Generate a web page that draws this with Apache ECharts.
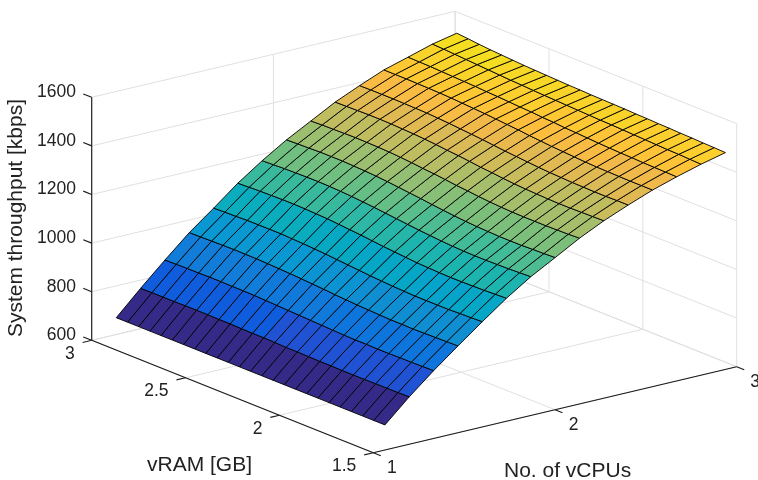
<!DOCTYPE html>
<html><head><meta charset="utf-8">
<style>html,body{margin:0;padding:0;background:#fff}#c{width:758px;height:480px}</style>
<script src="https://cdn.jsdelivr.net/npm/echarts@6/dist/echarts.min.js"></script>
</head><body><div id="c"></div>
<script>
const zTicks=[600,800,1000,1200,1400,1600];
const ramTicks=[3,2.5,2,1.5];
const cpuTicks=[1,2,3];
const ramTickLabels=['3','2.5','2','1.5'];
const cpuTickLabels=['1','2','3'];
const vCPUs=[1.064,1.198,1.332,1.466,1.600,1.733,1.867,2.001,2.135,2.269,2.403,2.537,2.670,2.804,2.938];
const vRAM=[1.5,1.56,1.619,1.679,1.739,1.798,1.858,1.917,1.977,2.037,2.096,2.156,2.216,2.275,2.335,2.394,2.454,2.514,2.573,2.633,2.693,2.752,2.812,2.871,2.931];
const row00=[703,703,703,703,703,703,703,703,703,703,703,703,703,703,703,703,703,703,703,703,703,703,703,703,703];
const row01=[795,794,794,794,793,793,793,794,794,795,796,796,798,799,799,800,801,801,802,802,802,801,801,801,800];
const row02=[879,878,877,877,876,876,877,877,878,880,882,884,886,888,890,892,894,895,895,896,896,895,895,894,893];
const row03=[957,956,955,954,953,954,954,956,958,960,963,966,970,973,976,979,981,983,985,985,986,985,984,983,982];
const row04=[1033,1031,1030,1028,1028,1028,1028,1030,1032,1035,1038,1042,1046,1050,1054,1057,1060,1062,1064,1064,1064,1064,1062,1061,1059];
const row05=[1106,1104,1102,1101,1100,1100,1101,1103,1105,1109,1113,1117,1122,1127,1131,1135,1139,1141,1143,1144,1144,1143,1142,1140,1138];
const row06=[1171,1169,1167,1166,1165,1165,1166,1168,1171,1175,1179,1184,1189,1194,1199,1203,1207,1210,1212,1213,1213,1212,1211,1209,1207];
const row07=[1226,1224,1223,1221,1221,1221,1223,1225,1228,1232,1237,1242,1248,1253,1258,1263,1267,1270,1272,1274,1274,1274,1272,1271,1269];
const row08=[1282,1280,1279,1278,1278,1278,1279,1281,1284,1288,1293,1297,1303,1308,1312,1317,1321,1324,1326,1327,1328,1327,1326,1325,1323];
const row09=[1330,1329,1328,1327,1327,1328,1330,1332,1335,1339,1344,1348,1354,1359,1363,1368,1372,1375,1377,1379,1380,1380,1379,1378,1377];
const row10=[1371,1371,1370,1370,1371,1372,1374,1376,1379,1383,1387,1391,1396,1401,1405,1409,1413,1416,1419,1420,1421,1422,1422,1422,1421];
const row11=[1409,1409,1409,1410,1411,1412,1414,1417,1420,1423,1427,1431,1436,1440,1444,1448,1451,1454,1457,1459,1460,1461,1462,1462,1462];
const row12=[1440,1441,1442,1443,1445,1446,1448,1450,1453,1456,1458,1462,1464,1468,1470,1473,1476,1478,1481,1483,1485,1487,1489,1490,1491];
const row13=[1468,1470,1472,1473,1475,1477,1479,1481,1483,1484,1486,1488,1490,1492,1494,1496,1499,1501,1504,1507,1510,1513,1516,1519,1521];
const row14=[1492,1494,1495,1497,1498,1500,1501,1503,1504,1506,1507,1508,1509,1511,1512,1514,1516,1518,1520,1523,1526,1529,1533,1538,1542];
const throughput=[row00,row01,row02,row03,row04,row05,row06,row07,row08,row09,row10,row11,row12,row13,row14];

const parula=[[.2081,.1663,.5292],[.2116,.1898,.5777],[.2123,.2138,.6270],[.2081,.2386,.6771],[.1959,.2645,.7279],[.1707,.2919,.7792],[.1253,.3242,.8303],[.0591,.3598,.8683],[.0117,.3875,.8820],[.0060,.4086,.8828],[.0165,.4266,.8786],[.0329,.4430,.8720],[.0498,.4586,.8641],[.0629,.4737,.8554],[.0723,.4887,.8467],[.0779,.5040,.8384],[.0793,.5200,.8312],[.0749,.5375,.8263],[.0641,.5570,.8240],[.0488,.5772,.8228],[.0343,.5966,.8199],[.0265,.6137,.8135],[.0239,.6287,.8038],[.0231,.6418,.7913],[.0228,.6535,.7768],[.0267,.6642,.7607],[.0384,.6743,.7436],[.0590,.6838,.7254],[.0843,.6928,.7062],[.1133,.7015,.6859],[.1453,.7098,.6646],[.1801,.7177,.6424],[.2178,.7250,.6193],[.2586,.7317,.5954],[.3022,.7376,.5712],[.3482,.7424,.5473],[.3953,.7459,.5244],[.4420,.7481,.5033],[.4871,.7491,.4840],[.5300,.7491,.4661],[.5709,.7485,.4494],[.6099,.7473,.4337],[.6473,.7456,.4188],[.6834,.7435,.4044],[.7184,.7411,.3905],[.7525,.7384,.3768],[.7858,.7356,.3633],[.8185,.7327,.3498],[.8507,.7299,.3360],[.8824,.7274,.3217],[.9139,.7258,.3063],[.9450,.7261,.2886],[.9739,.7314,.2666],[.9938,.7455,.2403],[.9990,.7653,.2164],[.9955,.7861,.1967],[.9880,.8066,.1794],[.9789,.8271,.1633],[.9697,.8481,.1475],[.9626,.8705,.1309],[.9589,.8949,.1132],[.9598,.9218,.0948],[.9661,.9514,.0755],[.9763,.9831,.0538]];
const cMin=703, cMax=1575;
function colorOf(z){
  const k=Math.min(63,Math.floor((z-cMin)/(cMax-cMin)*64));
  const c=parula[k];
  return 'rgb('+c.map(v=>Math.round(v*255)).join(',')+')';
}
// Orthographic view of the 3D box: data space -> view plane
const O=[373.3,452.7], cpuV=[363.4,-86], ramV=[-281.6,-112.4], zV=-0.243;
function project(c,r,z){
  const a=(c-1)/2,b=(r-1.5)/1.5;
  return [O[0]+a*cpuV[0]+b*ramV[0], O[1]+a*cpuV[1]+b*ramV[1]+(z-600)*zV];
}
const grid=[], axis=[];
zTicks.forEach(z=>{grid.push([1,3,z,3,3,z]);grid.push([3,3,z,3,1.5,z]);});
cpuTicks.forEach(c=>{grid.push([c,1.5,600,c,3,600]);grid.push([c,3,600,c,3,1600]);});
ramTicks.forEach(r=>{grid.push([1,r,600,3,r,600]);grid.push([3,r,600,3,r,1600]);});
zTicks.forEach(z=>axis.push([1,3,z,1,3.045,z]));
ramTicks.forEach(r=>axis.push([1,r,600,0.95,r,600]));
cpuTicks.forEach(c=>axis.push([c,1.5,600,c,1.46,600]));
axis.push([1,3,600,1,3,1600]);
axis.push([1,3,600,1,1.5,600]);
axis.push([1,1.5,600,3,1.5,600]);

const cells=[];
for(let i=0;i<vCPUs.length-1;i++)for(let j=0;j<vRAM.length-1;j++){
  cells.push([vCPUs[i],vRAM[j],throughput[i][j],vCPUs[i+1],vRAM[j+1],throughput[i+1][j],throughput[i+1][j+1],throughput[i][j+1]]);
}
function segSeries(data,color,w,zl){
  return {type:'custom',coordinateSystem:'cartesian2d',silent:true,clip:false,z:zl,data,
    renderItem(p,api){
      const v=[0,1,2,3,4,5].map(k=>api.value(k));
      const a=api.coord(project(v[0],v[1],v[2])),b=api.coord(project(v[3],v[4],v[5]));
      return {type:'line',shape:{x1:a[0],y1:a[1],x2:b[0],y2:b[1]},style:{stroke:color,lineWidth:w}};
    }};
}
function textSeries(items,zl){
  return {type:'custom',coordinateSystem:'cartesian2d',silent:true,clip:false,z:zl,data:items.map(d=>[d[0],d[1],d[2]]),
    renderItem(p,api){
      const d=items[p.dataIndex];
      const a=api.coord(project(d[0],d[1],d[2]));
      return {type:'text',style:{text:d[3],x:a[0]+d[4],y:a[1]+d[5],fill:'#222',font:'17.5px "Liberation Sans",Arial,sans-serif',align:d[6],verticalAlign:'middle'}};
    }};
}
const labels=[];
zTicks.forEach(z=>labels.push([1,3,z,String(z),-15.7,-5,'right']));
ramTicks.forEach((r,i)=>labels.push([1,r,600,ramTickLabels[i],-17,13.6,'right']));
cpuTicks.forEach((c,i)=>labels.push([c,1.5,600,cpuTickLabels[i],18.5,15,'center']));

const chart=echarts.init(document.getElementById('c'),null,{renderer:'canvas',width:758,height:480});
chart.setOption({
  animation:false,
  backgroundColor:'#fff',
  grid:{left:0,right:0,top:0,bottom:0},
  xAxis:{type:'value',min:0,max:758,show:false},
  yAxis:{type:'value',min:0,max:480,inverse:true,show:false},
  series:[
    segSeries(grid,'#e0e0e0',1,1),
    segSeries(axis,'#1c1c1c',1.15,2),
    {type:'custom',coordinateSystem:'cartesian2d',silent:true,clip:false,z:3,data:cells,
     renderItem(p,api){
       const c0=api.value(0),r0=api.value(1),c1=api.value(3),r1=api.value(4);
       const pts=[[c0,r0,api.value(2)],[c1,r0,api.value(5)],[c1,r1,api.value(6)],[c0,r1,api.value(7)]]
         .map(q=>api.coord(project(q[0],q[1],q[2])));
       return {type:'polygon',shape:{points:pts},style:{fill:colorOf(api.value(2)),stroke:'#000',lineWidth:0.9}};
     }},
    textSeries(labels,4)
  ],
  graphic:[
    {type:'text',left:147,top:455,style:{text:'vRAM [GB]',fill:'#222',font:'21px "Liberation Sans",Arial,sans-serif'}},
    {type:'text',left:504,top:461,style:{text:'No. of vCPUs',fill:'#222',font:'21px "Liberation Sans",Arial,sans-serif'}},
    {type:'text',x:16,y:218,rotation:Math.PI/2,style:{text:'System throughput [kbps]',fill:'#222',font:'21px "Liberation Sans",Arial,sans-serif',align:'center',verticalAlign:'middle'}}
  ]
});
</script></body></html>
